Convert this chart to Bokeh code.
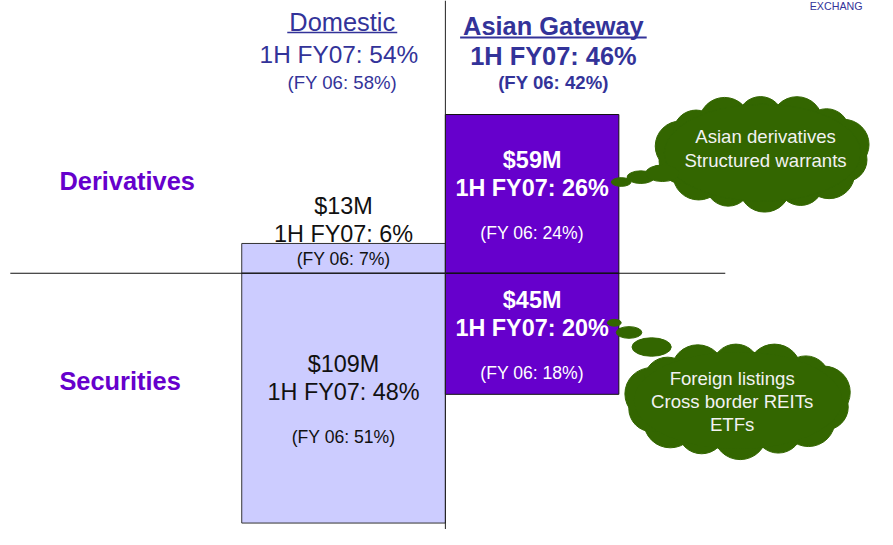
import numpy as np
from bokeh.plotting import figure
from bokeh.models import Range1d, Span
from bokeh.core.properties import value
from bokeh.embed import file_html
from bokeh.resources import INLINE

# ---------------- data ----------------
regions = ["Domestic", "Asian Gateway"]
region_share_1h = [54, 46]          # % of revenue, 1H FY07
region_share_fy06 = [58, 42]
segments = ["Derivatives", "Securities"]
revenue_domestic = [13, 109]        # $M
revenue_asian = [59, 45]
share_1h_domestic = [6, 48]
share_1h_asian = [26, 20]
share_fy06_domestic = [7, 51]
share_fy06_asian = [24, 18]
cloud_derivatives = ["Asian derivatives", "Structured warrants"]
cloud_securities = ["Foreign listings", "Cross border REITs", "ETFs"]

# ---------------- layout helpers ----------------
W, H = 877, 529
REF_W, REF_H = 893, 545
FS = (W / REF_W + H / REF_H) / 2    # font scale
XS, YS = 3.84, 127.5      # ref px per share-point, ref px per ($M / share-point)
X0, Y0 = 453, 281         # ref px of the origin (divider lines)
def rx(px): return (px - X0) / XS
def ry(py): return (Y0 - py) / YS
def wx(px): return px / XS
def hy(px): return px / YS
def fs(px): return f"{px * FS:.1f}px"

FONT = value("Liberation Sans")
HEAD = "#333399"
PURPLE = "#6600CC"
LAV = "#CCCCFF"
GREEN = "#336600"

p = figure(width=W, height=H, x_range=Range1d(rx(0), rx(REF_W)),
           y_range=Range1d(ry(REF_H), ry(0)), toolbar_location=None,
           output_backend="svg", x_axis_type=None, y_axis_type=None,
           min_border=0)
p.grid.visible = False
p.outline_line_color = None
p.background_fill_color = "white"

# ---------------- bars (marimekko: width = region share, area = revenue) ----------------
dom_w, asia_w = region_share_1h
dom_h = [v / dom_w for v in revenue_domestic]
asia_h = [v / asia_w for v in revenue_asian]

p.quad(left=[-dom_w, -dom_w], right=[0, 0], bottom=[0, -dom_h[1]], top=[dom_h[0], 0],
       fill_color=LAV, line_color="#333333", line_width=1)
p.quad(left=[0, 0], right=[asia_w, asia_w], bottom=[0, -asia_h[1]], top=[asia_h[0], 0],
       fill_color=PURPLE, line_color="#111111", line_width=1)

# divider lines
p.segment(x0=[rx(10)], y0=[0], x1=[rx(738)], y1=[0], line_color="#111111", line_width=1)
p.add_layout(Span(location=0, dimension="height", line_color="#222222", line_width=1))

# ---------------- bar labels ----------------
def bar_labels(cx, top, bottom, rev, s1h, sfy, bold, color):
    c = (top + bottom) / 2
    hpx = (top - bottom) * YS
    offs = (-35, -6, 40) if hpx > 60 else (-54, -25, 1)
    ys = [c - hy(o) for o in offs]
    style = "bold" if bold else "normal"
    p.text(x=[cx, cx], y=ys[:2], text=[f"${rev}M", f"1H FY07: {s1h}%"],
           text_font=FONT, text_font_size=fs(24), text_font_style=style,
           text_align="center", text_baseline="middle", text_color=color)
    p.text(x=[cx], y=[ys[2]], text=[f"(FY 06: {sfy}%)"],
           text_font=FONT, text_font_size=fs(18), text_align="center",
           text_baseline="middle", text_color=color)

bar_labels(-dom_w / 2, dom_h[0], 0, revenue_domestic[0], share_1h_domestic[0],
           share_fy06_domestic[0], False, "#111111")
bar_labels(-dom_w / 2, 0, -dom_h[1], revenue_domestic[1], share_1h_domestic[1],
           share_fy06_domestic[1], False, "#111111")
bar_labels(asia_w / 2, asia_h[0], 0, revenue_asian[0], share_1h_asian[0],
           share_fy06_asian[0], True, "white")
bar_labels(asia_w / 2, 0, -asia_h[1], revenue_asian[1], share_1h_asian[1],
           share_fy06_asian[1], True, "white")

# ---------------- headers ----------------
p.text(x=[rx(348)], y=[ry(22)], text=[regions[0]], text_font=FONT, text_font_size=fs(26),
       text_align="center", text_baseline="middle", text_color=HEAD)
p.segment(x0=[rx(292)], y0=[ry(33)], x1=[rx(404)], y1=[ry(33)], line_color=HEAD, line_width=1.5)
p.text(x=[rx(348)], y=[ry(56)], text=[f"1H FY07:  {region_share_1h[0]}%"], text_font=FONT,
       text_font_size=fs(25), text_align="center", text_baseline="middle", text_color=HEAD)
p.text(x=[rx(348)], y=[ry(84)], text=[f"(FY 06: {region_share_fy06[0]}%)"], text_font=FONT,
       text_font_size=fs(19), text_align="center", text_baseline="middle", text_color=HEAD)

p.text(x=[rx(563)], y=[ry(26)], text=[regions[1]], text_font=FONT, text_font_size=fs(26),
       text_font_style="bold", text_align="center", text_baseline="middle", text_color=HEAD)
p.segment(x0=[rx(468)], y0=[ry(38)], x1=[rx(658)], y1=[ry(38)], line_color=HEAD, line_width=2)
p.text(x=[rx(563)], y=[ry(57)], text=[f"1H FY07: {region_share_1h[1]}%"], text_font=FONT,
       text_font_size=fs(26), text_font_style="bold", text_align="center",
       text_baseline="middle", text_color=HEAD)
p.text(x=[rx(563)], y=[ry(84)], text=[f"(FY 06: {region_share_fy06[1]}%)"], text_font=FONT,
       text_font_size=fs(19), text_font_style="bold", text_align="center",
       text_baseline="middle", text_color=HEAD)

# row labels
p.text(x=[rx(60), rx(60)], y=[ry(186), ry(392)], text=segments, text_font=FONT,
       text_font_size=fs(26), text_font_style="bold", text_align="left",
       text_baseline="middle", text_color=PURPLE)

# corner text
p.text(x=[rx(824)], y=[ry(6)], text=["EXCHANG"], text_font=FONT, text_font_size=fs(11),
       text_align="left", text_baseline="middle", text_color=HEAD)

# ---------------- clouds ----------------
def cloud(cx, cy, a, b, n, r, tail):
    ang = np.linspace(0, 2 * np.pi, n, endpoint=False) + 0.2
    lx = cx + (a - r) * np.cos(ang)
    ly = cy + (b - r) * np.sin(ang)
    rr = [r if i % 2 == 0 else r + 3 for i in range(n)]
    p.ellipse(x=[rx(v) for v in lx], y=[ry(v) for v in ly],
              width=[wx(2 * q) for q in rr], height=[hy(2 * q) for q in rr],
              fill_color=GREEN, line_color=GREEN)
    p.ellipse(x=[rx(cx)], y=[ry(cy)], width=[wx(2 * (a - 8))], height=[hy(2 * (b - 8))],
              fill_color=GREEN, line_color=GREEN)
    tx, ty, tw, th = zip(*tail)
    p.ellipse(x=[rx(v) for v in tx], y=[ry(v) for v in ty],
              width=[wx(v) for v in tw], height=[hy(v) for v in th],
              fill_color=GREEN, line_color=GREEN)

cloud(776, 157, 108, 58, 14, 23, [(632, 187, 20, 9), (652, 182, 28, 13), (674, 178, 34, 17)])
cloud(751, 412, 114, 58, 14, 24, [(625, 332, 14, 7), (640, 342, 26, 12), (663, 357, 40, 19)])

p.text(x=[rx(779)] * 2, y=[ry(140), ry(165)], text=cloud_derivatives, text_font=FONT,
       text_font_size=fs(19), text_align="center", text_baseline="middle", text_color="#F2F2F2")
p.text(x=[rx(745)] * 3, y=[ry(389), ry(413), ry(437)], text=cloud_securities, text_font=FONT,
       text_font_size=fs(19), text_align="center", text_baseline="middle", text_color="#F2F2F2")

open("out.html", "w").write(file_html(p, INLINE))
